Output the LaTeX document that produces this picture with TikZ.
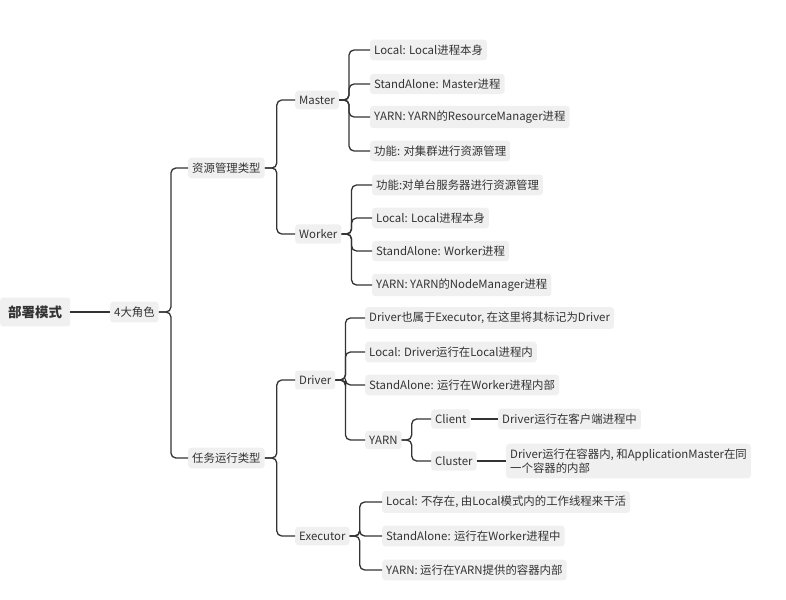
\documentclass[tikz,border=0pt]{standalone}
\usepackage{fontspec}
\setmainfont{Noto Sans CJK SC}
\usetikzlibrary{positioning}

\begin{document}
\begin{tikzpicture}[
    x=1pt, y=-1pt,
    topic/.style={rectangle, rounded corners=3pt, fill=black!6, text=black!80, inner xsep=4pt, inner ysep=5pt, font=\fontsize{11.4}{14}\selectfont, anchor=west},
    root/.style={topic, font=\fontsize{13.5}{16}\selectfont\bfseries, inner xsep=8pt, inner ysep=8pt},
    link/.style={draw=black!80, line width=1.3pt, rounded corners=5pt}
]
\useasboundingbox (0,0) rectangle (786,599);

% Root and first level
\node[root] (deploy) at (0,312) {部署模式};
\node[topic] (roles) at (110,312) {4大角色};

% Second level
\node[topic] (resource) at (188,168) {资源管理类型};
\node[topic] (task) at (188,458) {任务运行类型};

% Third level
\node[topic] (master) at (295,100) {Master};
\node[topic] (worker) at (295,234) {Worker};
\node[topic] (driver) at (295,380) {Driver};
\node[topic] (executor) at (295,536) {Executor};

% Master leaves
\node[topic] (mlocal) at (370,50) {Local: Local进程本身};
\node[topic] (msa) at (370,84) {StandAlone: Master进程};
\node[topic] (myarn) at (370,117) {YARN: YARN的ResourceManager进程};
\node[topic] (mfunc) at (370,151) {功能: 对集群进行资源管理};

% Worker leaves
\node[topic] (wfunc) at (372,185) {功能:对单台服务器进行资源管理};
\node[topic] (wlocal) at (372,218) {Local: Local进程本身};
\node[topic] (wsa) at (372,251) {StandAlone: Worker进程};
\node[topic] (wyarn) at (372,285) {YARN: YARN的NodeManager进程};

% Driver leaves
\node[topic] (dnote) at (365,318) {Driver也属于Executor, 在这里将其标记为Driver};
\node[topic] (dlocal) at (365,352) {Local: Driver运行在Local进程内};
\node[topic] (dsa) at (365,385) {StandAlone: 运行在Worker进程内部};
\node[topic] (dyarn) at (365,440) {YARN};
\node[topic] (client) at (431,419) {Client};
\node[topic] (cluster) at (431,461) {Cluster};
\node[topic] (clientnote) at (498,419) {Driver运行在客户端进程中};
\node[topic, align=left] (clusternote) at (506,461) {Driver运行在容器内, 和ApplicationMaster在同\\一个容器的内部};

% Executor leaves
\node[topic] (elocal) at (382,502) {Local: 不存在, 由Local模式内的工作线程来干活};
\node[topic] (esa) at (382,536) {StandAlone: 运行在Worker进程中};
\node[topic] (eyarn) at (382,570) {YARN: 运行在YARN提供的容器内部};

% Connectors
\draw[link] (deploy) -- (roles);
\foreach \child in {resource, task}
    \draw[link] (roles.east) -- ++(12,0) |- (\child.west);
\foreach \child in {master, worker}
    \draw[link] (resource.east) -- ++(12,0) |- (\child.west);
\foreach \child in {driver, executor}
    \draw[link] (task.east) -- ++(12,0) |- (\child.west);
\foreach \child in {mlocal, msa, myarn, mfunc}
    \draw[link] (master.east) -- ++(10,0) |- (\child.west);
\foreach \child in {wfunc, wlocal, wsa, wyarn}
    \draw[link] (worker.east) -- ++(10,0) |- (\child.west);
\foreach \child in {dnote, dlocal, dsa, dyarn}
    \draw[link] (driver.east) -- ++(10,0) |- (\child.west);
\foreach \child in {client, cluster}
    \draw[link] (dyarn.east) -- ++(10,0) |- (\child.west);
\foreach \child in {elocal, esa, eyarn}
    \draw[link] (executor.east) -- ++(10,0) |- (\child.west);
\draw[link] (client) -- (clientnote);
\draw[link] (cluster) -- (clusternote);

\end{tikzpicture}
\end{document}
